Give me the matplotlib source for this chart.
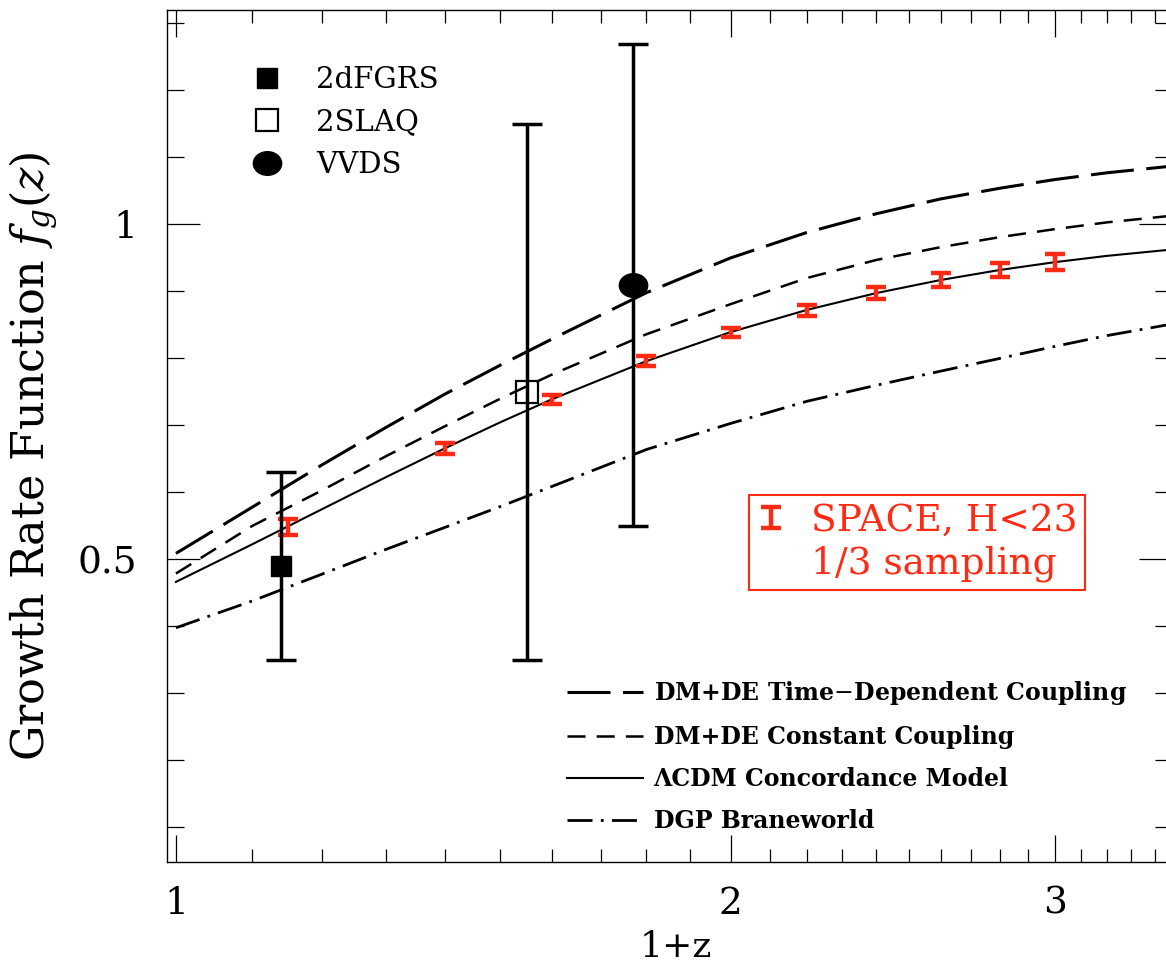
import numpy as np
import matplotlib
matplotlib.use('Agg')
import matplotlib.pyplot as plt
from matplotlib.lines import Line2D
from matplotlib.markers import MarkerStyle
from matplotlib.transforms import Affine2D
from matplotlib.legend_handler import HandlerErrorbar
from matplotlib.ticker import FixedLocator, FixedFormatter, NullFormatter

plt.rcParams['font.family'] = ['DejaVu Serif']
plt.rcParams['mathtext.fontset'] = 'dejavuserif'
plt.rcParams['lines.scale_dashes'] = False

# model curves, x = 1+z
x_model = [1.0, 1.1, 1.2, 1.3, 1.4, 1.5, 1.6, 1.8, 2.0, 2.2, 2.4, 2.6, 2.8, 3.0, 3.2, 3.5]
f_time_dep = [0.509, 0.578, 0.641, 0.697, 0.747, 0.790, 0.829, 0.898, 0.950, 0.988, 1.016,
              1.038, 1.054, 1.067, 1.077, 1.088]
f_const = [0.479, 0.550, 0.603, 0.654, 0.699, 0.740, 0.776, 0.836, 0.881, 0.920, 0.947,
           0.966, 0.981, 0.993, 1.003, 1.014]
f_lcdm = [0.4665, 0.5226, 0.5749, 0.6228, 0.6661, 0.7048, 0.7391, 0.7959, 0.8393, 0.8724,
          0.8976, 0.9170, 0.9320, 0.9437, 0.9530, 0.9635]
f_dgp = [0.398, 0.438, 0.478, 0.515, 0.548, 0.579, 0.609, 0.664, 0.703, 0.736, 0.760,
         0.781, 0.800, 0.818, 0.834, 0.853]
model_labels = ['DM+DE Time$-$Dependent Coupling', 'DM+DE Constant Coupling',
                '\u039bCDM Concordance Model', 'DGP Braneworld']

# SPACE forecast points
space_x = [1.15, 1.4, 1.6, 1.8, 2.0, 2.2, 2.4, 2.6, 2.8, 3.0]
space_f = [0.549, 0.666, 0.739, 0.796, 0.839, 0.872, 0.898, 0.917, 0.932, 0.944]
space_err = [0.012, 0.008, 0.007, 0.007, 0.007, 0.008, 0.009, 0.010, 0.011, 0.012]

# measurements
surveys = ['2dFGRS', '2SLAQ', 'VVDS']
survey_x = [1.14, 1.55, 1.77]
survey_f = [0.49, 0.75, 0.91]
survey_err = [0.14, 0.40, 0.36]

x_major = [1, 2, 3]
x_major_labels = ['1', '2', '3']
y_major = [0.5, 1.0]
y_major_labels = ['0.5', '1']

red = '#ff2a14'

fig = plt.figure(figsize=(11.66, 9.67), dpi=100)
ax = fig.add_axes([0.14297, 0.10827, 0.86175, 0.88139])

l1, = ax.plot(x_model, f_time_dep, color='black', lw=2.2, dashes=(31, 9), label=model_labels[0])
l2, = ax.plot(x_model, f_const, color='black', lw=1.8, dashes=(13, 8), label=model_labels[1])
l3, = ax.plot(x_model, f_lcdm, color='black', lw=1.5, label=model_labels[2])
l4, = ax.plot(x_model, f_dgp, color='black', lw=2.0, dashes=(18, 6, 2, 6), label=model_labels[3])

eb = ax.errorbar(space_x, space_f, yerr=space_err, fmt='none', ecolor=red,
                 elinewidth=3.2, capsize=7, capthick=3.2, zorder=4)

ax.errorbar(survey_x, survey_f, yerr=survey_err, fmt='none', ecolor='black',
            elinewidth=2.5, capsize=10.5, capthick=2.5, zorder=5)
m1, = ax.plot(survey_x[0], survey_f[0], 's', color='black', ms=15, ls='none', zorder=6,
              label=surveys[0])
m2, = ax.plot(survey_x[1], survey_f[1], 's', mfc='none', mec='black', mew=1.6, ms=16,
              ls='none', zorder=6, label=surveys[1])
ellipse = MarkerStyle('o', transform=Affine2D().scale(1.2, 1.0))
m3, = ax.plot(survey_x[2], survey_f[2], marker=ellipse, color='black', ms=17, ls='none',
              zorder=6, label=surveys[2])

ax.set_xscale('log')
ax.set_xlim(0.9885, 3.47)
ax.set_ylim(0.048, 1.32)

ax.xaxis.set_major_locator(FixedLocator(x_major))
ax.xaxis.set_major_formatter(FixedFormatter(x_major_labels))
x_minor = [v / 10 for v in range(11, 35) if v % 10 != 0]
ax.xaxis.set_minor_locator(FixedLocator(x_minor))
ax.xaxis.set_minor_formatter(NullFormatter())
ax.yaxis.set_major_locator(FixedLocator(y_major))
ax.yaxis.set_major_formatter(FixedFormatter(y_major_labels))
ax.yaxis.set_minor_locator(FixedLocator([v / 10 for v in range(1, 14)]))

ax.tick_params(which='both', direction='in', top=True, right=True, width=0.9, labelsize=27)
ax.tick_params(axis='x', which='major', length=19.5, pad=17)
ax.tick_params(axis='x', which='minor', length=9.5)
ax.tick_params(axis='y', which='major', length=23.5, pad=21)
ax.tick_params(axis='y', which='minor', length=12)
for sp in ax.spines.values():
    sp.set_linewidth(1.0)

ax.set_xlabel('1+z', fontsize=26)
ax.xaxis.set_label_coords(0.507, -0.079)
ax.set_ylabel('Growth Rate Function $f_g(z)$', fontsize=32)
ax.yaxis.set_label_coords(-0.106, 0.4767)

leg1 = ax.legend(handles=[m1, m2, m3], loc='upper left', bbox_to_anchor=(0.0736, 0.9480),
                 frameon=False, fontsize=21, numpoints=1, handlelength=1.0,
                 handletextpad=1.2, labelspacing=0.5, borderaxespad=0)
ax.add_artist(leg1)

leg2 = ax.legend(handles=[l1, l2, l3, l4], loc='upper left', bbox_to_anchor=(0.3894, 0.2260),
                 frameon=False, prop={'size': 17, 'weight': 'bold'}, handlelength=3.2,
                 handletextpad=0.45, labelspacing=0.76, borderaxespad=0)
ax.add_artist(leg2)

blank = Line2D([], [], color='none')
leg3 = ax.legend(handles=[eb, blank], labels=['SPACE, H<23', '1/3 sampling'],
                 loc='upper left', bbox_to_anchor=(0.5795, 0.4310), fontsize=27,
                 labelcolor=red, edgecolor=red, fancybox=False, framealpha=1,
                 handlelength=0.75, handletextpad=0.7, labelspacing=0.2,
                 borderpad=0.2, borderaxespad=0,
                 handler_map={type(eb): HandlerErrorbar(yerr_size=0.28)})
leg3.get_frame().set_linewidth(1.5)

fig.savefig('out.png', dpi=100)
